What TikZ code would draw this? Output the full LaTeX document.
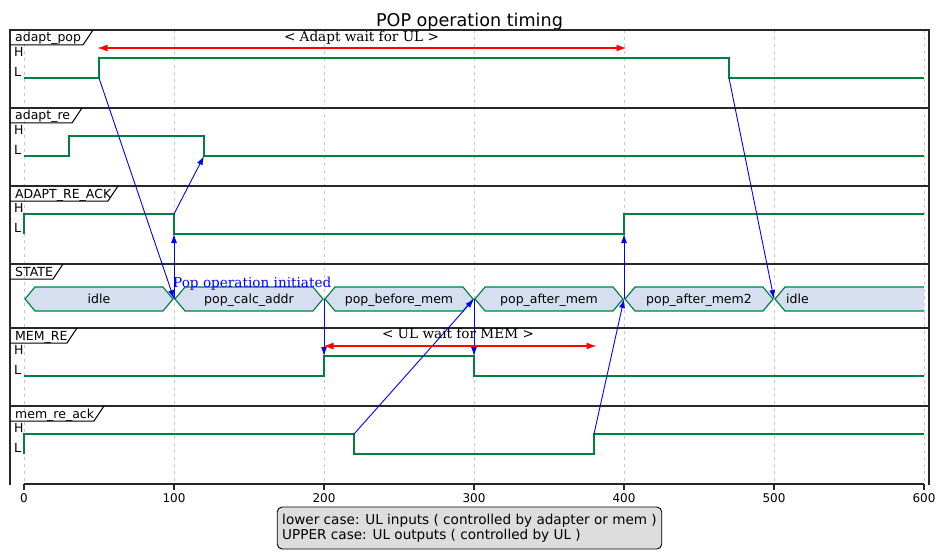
\documentclass[tikz,border=0pt]{standalone}
\usepackage{fontspec}
\setmainfont{DejaVu Sans}
\newfontfamily\seriffont{DejaVu Serif}
\usetikzlibrary{arrows.meta,calc}
\definecolor{sig}{RGB}{0,128,64}
\definecolor{hexfill}{RGB}{214,223,240}
\definecolor{framec}{RGB}{40,40,40}
\definecolor{legfill}{RGB}{221,221,221}
\definecolor{gridc}{RGB}{200,200,200}
\begin{document}
\begin{tikzpicture}[x=1pt,y=-1pt,
  lbl/.style={font=\fontsize{12.5}{14}\selectfont, inner sep=0pt},
  axlbl/.style={font=\fontsize{12}{14}\selectfont, inner sep=0pt, anchor=base},
  sertext/.style={font=\seriffont\fontsize{13.6}{15}\selectfont, inner sep=0pt},
  gridline/.style={gridc, dash pattern=on 3pt off 4pt, line width=0.8pt},
  framel/.style={framec, line width=1.5pt},
  tabl/.style={black, line width=1pt},
  sigl/.style={sig, line width=1.4pt},
  hexl/.style={sig, line width=1.2pt, fill=hexfill},
  msg/.style={blue, line width=0.9pt, -{Latex[length=9pt,width=6pt]}},
  waitl/.style={red, line width=1.2pt, {Latex[length=10pt,width=7pt]}-{Latex[length=10pt,width=7pt]}}]
\useasboundingbox (0,0) rectangle (947,559);

% title
\node[font=\fontsize{17.6}{20}\selectfont, inner sep=0pt, anchor=base] (title) at (469.5,27) {POP operation timing};

% grid
\foreach \t in {0,100,...,600}
  \draw[gridline] ({24+1.5*\t},30) -- ({24+1.5*\t},484);

% frame
\draw[framel] (10,485) -- (10,30) -- (929,30) -- (929,485);
\foreach \y in {108,186,264,328,406}
  \draw[framel] (10,\y) -- (929,\y);

% axis
\draw[framel] (24,484) -- (924,484);
\foreach \t in {0,100,...,600} {
  \draw[framel] ({24+1.5*\t},484) -- ({24+1.5*\t},490);
  \node[axlbl] (ax\t) at ({24+1.5*\t},502) {\t};
}

% lane names and tabs
\node[lbl, anchor=base west] (nA) at (15,42) {adapt\_pop};
\draw[tabl] (10,45) -- (83,45) -- (93,30);
\node[lbl, anchor=base west] (nB) at (15,120) {adapt\_re};
\draw[tabl] (10,123) -- (72,123) -- (82,108);
\node[lbl, anchor=base west] (nC) at (15,198) {ADAPT\_RE\_ACK};
\draw[tabl] (10,201) -- (108,201) -- (118,186);
\node[lbl, anchor=base west] (nS) at (15,276) {STATE};
\draw[tabl] (10,279) -- (53,279) -- (63,264);
\node[lbl, anchor=base west] (nM) at (15,340) {MEM\_RE};
\draw[tabl] (10,343) -- (67,343) -- (77,328);
\node[lbl, anchor=base west] (nN) at (15,418) {mem\_re\_ack};
\draw[tabl] (10,421) -- (94,421) -- (104,406);

% H / L labels
\foreach \top/\nm in {30/A,108/B,186/C,328/M,406/N} {
  \node[lbl, anchor=base west] (h\nm) at (14,{\top+26.7}) {H};
  \node[lbl, anchor=base west] (l\nm) at (14,{\top+46.5}) {L};
}

% signals
\draw[sigl] (24,78) -- (99,78) -- (99,58) -- (729,58) -- (729,78) -- (924,78);
\draw[sigl] (24,156) -- (69,156) -- (69,136) -- (204,136) -- (204,156) -- (924,156);
\draw[sigl] (24,234) -- (24,214) -- (174,214) -- (174,234) -- (624,234) -- (624,214) -- (924,214);
\draw[sigl] (24,376) -- (324,376) -- (324,356) -- (474,356) -- (474,376) -- (924,376);
\draw[sigl] (24,454) -- (24,434) -- (354,434) -- (354,454) -- (594,454) -- (594,434) -- (924,434);

% state hexagons
\foreach \a/\b/\txt/\nm in {24/174/idle/s1, 174/324/pop\_calc\_addr/s2, 324/474/pop\_before\_mem/s3, 474/624/pop\_after\_mem/s4, 624/774/pop\_after\_mem2/s5} {
  \draw[hexl] ({\a+1},299) -- ({\a+11},287) -- ({\b-11},287) -- ({\b-1},299) -- ({\b-11},311) -- ({\a+11},311) -- cycle;
  \node[lbl, anchor=base] (\nm) at ({(\a+\b)/2},303.5) {\txt};
}
\fill[hexfill] (775,299) -- (785,287) -- (924,287) -- (924,311) -- (785,311) -- cycle;
\draw[sig, line width=1.2pt] (924,287) -- (785,287) -- (775,299) -- (785,311) -- (924,311);
\node[lbl, anchor=base west] (s6) at (786,303.5) {idle};

% anchor points
\coordinate (popRise) at (99,78);
\coordinate (popFall) at (729,78);
\coordinate (reFall) at (204,156);
\coordinate (ackFallTop) at (174,214);
\coordinate (ackFallBot) at (174,234);
\coordinate (ackRiseBot) at (624,234);
\coordinate (st100) at (174,299);
\coordinate (st200) at (324,299);
\coordinate (st300) at (474,299);
\coordinate (st400) at (624,299);
\coordinate (st500) at (774,299);
\coordinate (memRise) at (324,356);
\coordinate (memFall) at (474,356);
\coordinate (mackFall) at (354,434);
\coordinate (mackRise) at (594,434);
\coordinate (w1a) at (97.5,48);
\coordinate (w1b) at (626.5,48);
\coordinate (w2a) at (323.5,346);
\coordinate (w2b) at (596.5,346);

% messages
\draw[msg] (popRise) -- (st100);
\draw[msg] (ackFallTop) -- (reFall);
\draw[msg] (st100) -- (ackFallBot);
\draw[msg] (st200) -- (memRise);
\draw[msg] (mackFall) -- (st300);
\draw[msg] (st300) -- (memFall);
\draw[msg] (mackRise) -- (st400);
\draw[msg] (st400) -- (ackRiseBot);
\draw[msg] (popFall) -- (st500);
\node[sertext, blue, anchor=base west] (popinit) at (173,287.5) {Pop operation initiated};

% wait constraints
\draw[waitl] (w1a) -- (w1b);
\node[sertext, anchor=base] (wait1) at (361.5,41.5) {< Adapt wait for UL >};
\draw[waitl] (w2a) -- (w2b);
\node[sertext, anchor=base] (wait2) at (458,338.5) {< UL wait for MEM >};

% legend
\node[draw=black, line width=0.9pt, fill=legfill, rounded corners=5pt, align=left,
      minimum width=383pt, minimum height=42pt, inner xsep=5pt, inner ysep=3pt,
      font=\fontsize{13.6}{15}\selectfont] (legend) at (469.5,528)
  {lower case: UL inputs ( controlled by adapter or mem )\\UPPER case: UL outputs ( controlled by UL )};
\end{tikzpicture}
\end{document}
